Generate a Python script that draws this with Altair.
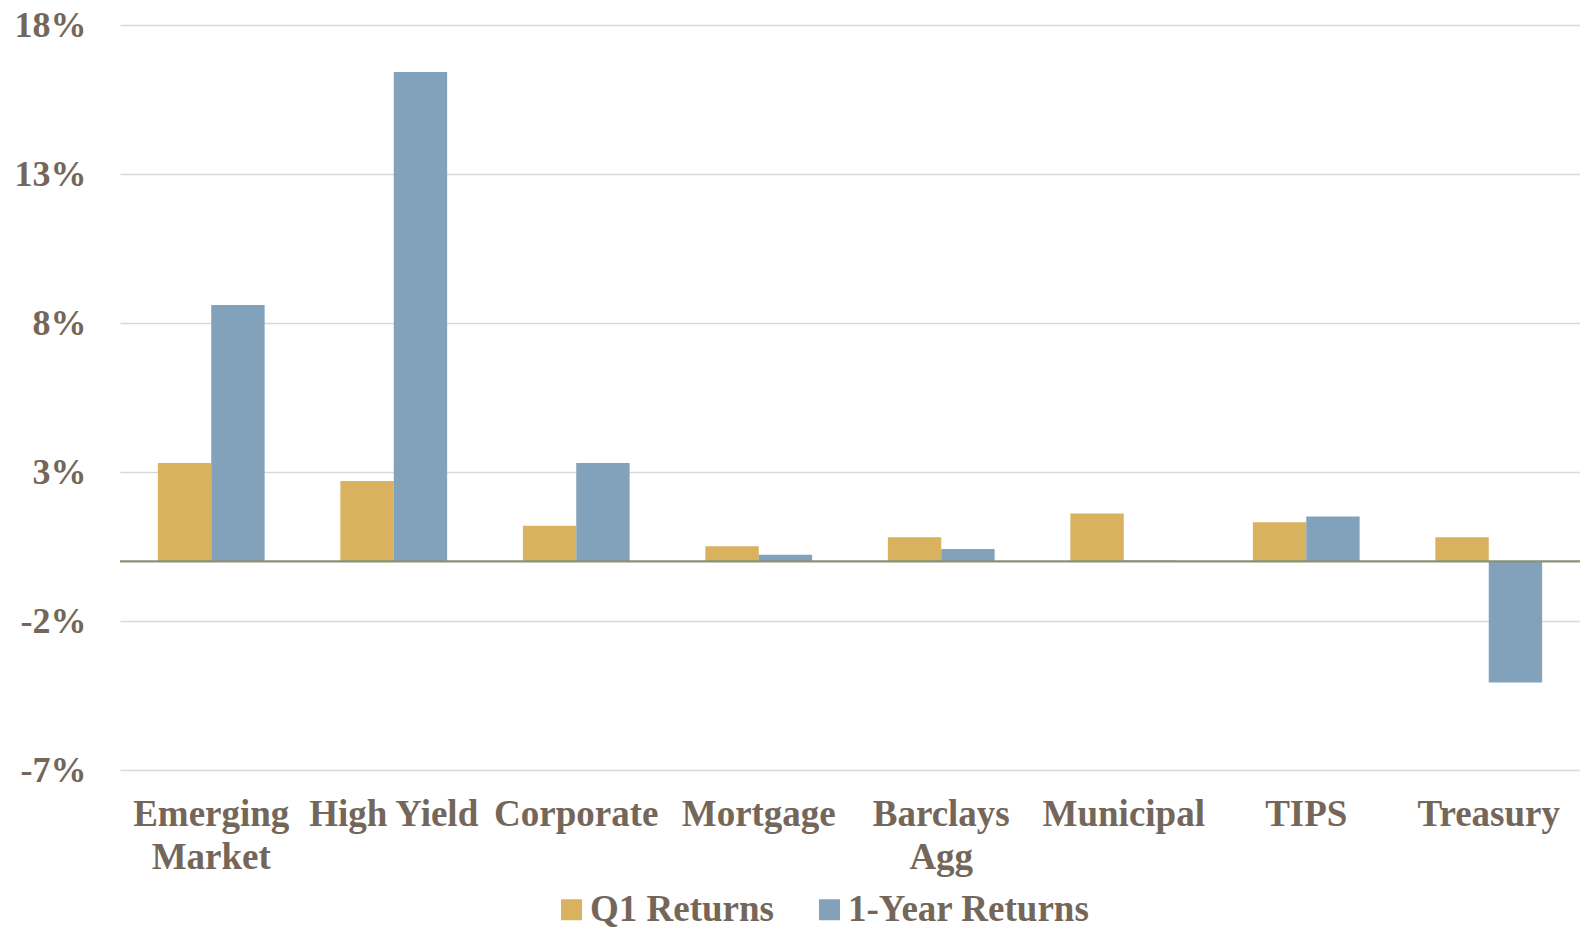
import altair as alt
import pandas as pd

# Fixed-income sector returns, in percent
sectors = ["Emerging Market", "High Yield", "Corporate", "Mortgage",
           "Barclays Agg", "Municipal", "TIPS", "Treasury"]
q1_returns = [3.30, 2.70, 1.20, 0.51, 0.81, 1.61, 1.31, 0.81]
one_year_returns = [8.60, 16.42, 3.30, 0.22, 0.42, 0.03, 1.51, -4.06]
series_names = ["Q1 Returns", "1-Year Returns"]
series_colors = ["#D8B25E", "#82A1BA"]
y_ticks = [-7, -2, 3, 8, 13, 18]

rows = []
for s, q, y in zip(sectors, q1_returns, one_year_returns):
    rows.append({"sector": s, "series": series_names[0], "value": q})
    rows.append({"sector": s, "series": series_names[1], "value": y})
df = pd.DataFrame(rows)

FONT = "Liberation Serif"
TEXT = "#74675A"

bars = alt.Chart(df).mark_bar().encode(
    x=alt.X(
        "sector:N",
        sort=sectors,
        title=None,
        scale=alt.Scale(paddingInner=0.415, paddingOuter=0.2075),
        axis=alt.Axis(
            labelAngle=0,
            labelFont=FONT,
            labelFontSize=37,
            labelFontWeight="bold",
            labelColor=TEXT,
            labelPadding=26,
            labelLineHeight=43,
            labelBaseline="top",
            labelLimit=0,
            ticks=False,
            domain=False,
            grid=False,
            labelExpr=(
                "datum.label == 'Emerging Market' ? ['Emerging', 'Market'] : "
                "datum.label == 'Barclays Agg' ? ['Barclays', 'Agg'] : datum.label"
            ),
        ),
    ),
    xOffset=alt.XOffset("series:N", sort=series_names),
    y=alt.Y(
        "value:Q",
        title=None,
        scale=alt.Scale(domain=[-7, 18], nice=False, zero=False),
        axis=alt.Axis(
            values=y_ticks,
            labelExpr="datum.value + '%'",
            labelFont=FONT,
            labelFontSize=36,
            labelFontWeight="bold",
            labelColor=TEXT,
            labelPadding=34,
            ticks=False,
            domain=False,
            grid=True,
            gridColor="#D9D9D9",
            gridWidth=1.5,
        ),
    ),
    color=alt.Color(
        "series:N",
        sort=series_names,
        scale=alt.Scale(domain=series_names, range=series_colors),
        legend=alt.Legend(
            title=None,
            orient="none",
            direction="horizontal",
            legendX=433,
            legendY=866,
            symbolType="square",
            symbolSize=440,
            symbolStrokeWidth=0,
            labelFont=FONT,
            labelFontSize=37,
            labelFontWeight="bold",
            labelColor=TEXT,
            labelOffset=0,
            labelLimit=0,
            columnPadding=37,
        ),
    ),
)

zero_line = alt.Chart(pd.DataFrame({"value": [0]})).mark_rule(
    color="#8A9178", strokeWidth=2.2
).encode(y="value:Q")

chart = alt.layer(bars, zero_line).properties(
    width=1460,
    height=745,
    background="white",
    autosize=alt.AutoSizeParams(type="none"),
    padding={"left": 120, "top": 25, "right": 0, "bottom": 159},
).configure_view(stroke=None)

chart.save("out.html", embed_options={"renderer": "svg", "actions": False})
